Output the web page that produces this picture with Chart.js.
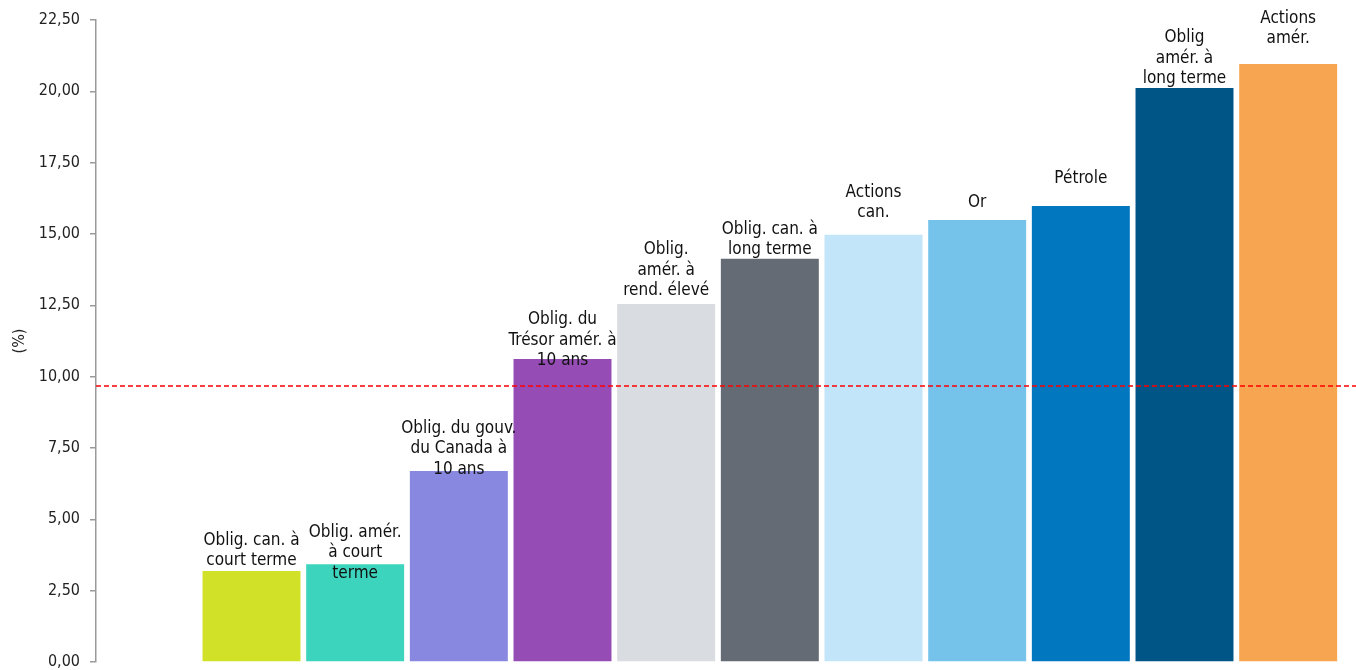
<!DOCTYPE html>
<html>
<head>
<meta charset="utf-8">
<script src="https://cdn.jsdelivr.net/npm/chart.js@4.4.0/dist/chart.umd.min.js"></script>
<style>
  html, body { margin: 0; padding: 0; background: #fff; }
  #wrap { width: 1356px; height: 670px; }
</style>
</head>
<body>
<div id="wrap"><canvas id="chart" width="1356" height="670"></canvas></div>
<script>
// ========== DATA ==========
const categories = [
    '',
    ['Oblig. can. à', 'court terme'],
    ['Oblig. amér.', 'à court', 'terme'],
    ['Oblig. du gouv.', 'du Canada à', '10 ans'],
    ['Oblig. du', 'Trésor amér. à', '10 ans'],
    ['Oblig.', 'amér. à', 'rend. élevé'],
    ['Oblig. can. à', 'long terme'],
    ['Actions', 'can.'],
    ['Or'],
    ['Pétrole'],
    ['Oblig', 'amér. à', 'long terme'],
    ['Actions', 'amér.']
];
const values = [null, 3.19, 3.43, 6.69, 10.62, 12.55, 14.13, 14.97, 15.49, 15.98, 20.12, 20.96];
const average = 9.67;
const yTicks = [0, 2.5, 5, 7.5, 10, 12.5, 15, 17.5, 20, 22.5];

// ========== STYLE ==========
const barColors = ['#ffffff', '#D0E128', '#3CD4BD', '#8888E0', '#954CB5', '#D9DCE1',
    '#646B75', '#C2E5FA', '#75C3EA', '#0077BF', '#005587', '#F8A552'];
// nudge of the label's last line relative to the top of its bar (px)
const labelNudge = [0, -10, 9, -2, 2, -13, -9, -22, -17, -27, -9, -25];
const FONT = '"DejaVu Sans Condensed", "DejaVu Sans", sans-serif';

const barLabels = {
    id: 'barLabels',
    afterDatasetsDraw(chart) {
        const ctx = chart.ctx;
        const meta = chart.getDatasetMeta(0);
        ctx.save();
        ctx.font = '17px ' + FONT;
        ctx.fillStyle = '#111';
        ctx.textAlign = 'center';
        ctx.textBaseline = 'middle';
        meta.data.forEach((bar, i) => {
            const lines = categories[i];
            if (!lines || values[i] == null) return;
            const arr = Array.isArray(lines) ? lines : [lines];
            const lastY = bar.y + labelNudge[i];
            arr.forEach((t, k) => {
                ctx.fillText(t, bar.x, lastY - (arr.length - 1 - k) * 20.5);
            });
        });
        ctx.restore();
    }
};

const avgLine = {
    id: 'avgLine',
    afterDatasetsDraw(chart) {
        const ctx = chart.ctx;
        const y = chart.scales.y.getPixelForValue(average);
        ctx.save();
        ctx.strokeStyle = '#FF0000';
        ctx.lineWidth = 1.5;
        ctx.setLineDash([5, 3]);
        ctx.beginPath();
        ctx.moveTo(chart.chartArea.left, y);
        ctx.lineTo(chart.width, y);
        ctx.stroke();
        ctx.restore();
    }
};

new Chart(document.getElementById('chart'), {
    type: 'bar',
    data: {
        labels: categories,
        datasets: [{
            data: values,
            backgroundColor: barColors,
            borderWidth: 0,
            categoryPercentage: 1,
            barPercentage: 0.945
        }]
    },
    options: {
        responsive: false,
        animation: false,
        events: [],
        layout: { padding: { top: 20, right: 16, bottom: 8, left: 0 } },
        plugins: { legend: { display: false }, tooltip: { enabled: false } },
        scales: {
            x: { display: false, offset: true, grid: { display: false } },
            y: {
                min: 0,
                max: 22.5,
                afterFit(scale) {
                    scale.width = 96;
                    scale.paddingTop = 0;
                    scale.paddingBottom = 0;
                },
                afterBuildTicks(scale) { scale.ticks = yTicks.map(v => ({ value: v })); },
                border: { display: true, color: '#9a9a9a', width: 1.5 },
                grid: { drawOnChartArea: false, drawTicks: true, tickLength: 6, color: '#9a9a9a', lineWidth: 1.5 },
                ticks: {
                    padding: 10,
                    color: '#222',
                    font: { family: FONT, size: 16 },
                    callback: v => v.toFixed(2).replace('.', ',')
                },
                title: {
                    display: true,
                    text: '(%)',
                    color: '#222',
                    font: { family: FONT, size: 16 },
                    padding: { top: 10, bottom: 0 }
                }
            }
        }
    },
    plugins: [barLabels, avgLine]
});
</script>
</body>
</html>
